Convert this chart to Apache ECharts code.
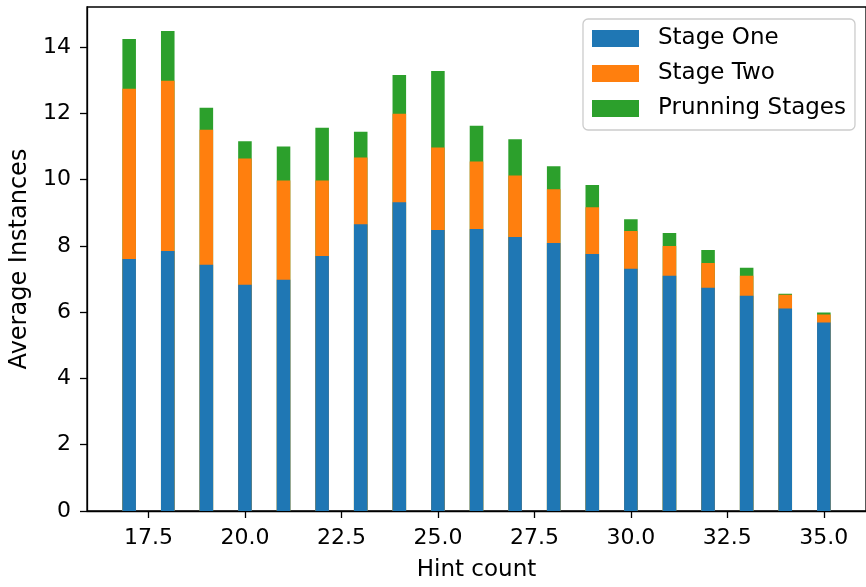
<!DOCTYPE html>
<html>
<head>
<meta charset="utf-8">
<script src="https://cdn.jsdelivr.net/npm/echarts@6/dist/echarts.min.js"></script>
<style>
html,body{margin:0;padding:0;background:#fff;}
#chart{width:866px;height:587px;}
</style>
</head>
<body>
<div id="chart"></div>
<script>
const hintCounts = [17,18,19,20,21,22,23,24,25,26,27,28,29,30,31,32,33,34,35];
const stageOne = [7.61,7.85,7.43,6.83,6.98,7.70,8.66,9.32,8.48,8.51,8.27,8.09,7.76,7.31,7.10,6.74,6.50,6.11,5.69];
const stageTwo = [5.14,5.14,4.08,3.81,3.00,2.28,2.01,2.67,2.49,2.04,1.86,1.62,1.41,1.14,0.90,0.75,0.60,0.42,0.24];
const pruning  = [1.50,1.50,0.66,0.52,1.02,1.59,0.78,1.17,2.31,1.08,1.09,0.70,0.67,0.36,0.39,0.39,0.24,0.03,0.06];
const seriesNames = ['Stage One','Stage Two','Prunning Stages'];
const xTickValues = [17.5,20.0,22.5,25.0,27.5,30.0,32.5,35.0];
const yTickValues = [0,2,4,6,8,10,12,14];
const xAxisTitle = 'Hint count';
const yAxisTitle = 'Average Instances';

const colors = ['#1f77b4','#ff7f0e','#2ca02c'];
const barUnits = 0.35;
const xMin = 15.9075, xMax = 36.0925;
const yMax = 15.2145;
const gridLeft = 87, gridTop = 7, gridWidth = 782, gridHeight = 507;
const barPx = barUnits * gridWidth / (xMax - xMin);
const FONT = 'DejaVu Sans';

// stacked tops (stack drawn back-to-front with overlapping bars on a value axis)
const segs = [stageOne, stageTwo, pruning];
const tops = segs.map((s, i) => hintCounts.map((h, k) => {
  let t = 0;
  for (let j = 0; j <= i; j++) t += segs[j][k];
  return [h, +t.toFixed(4)];
}));

const chart = echarts.init(document.getElementById('chart'), null, {renderer:'canvas'});
const mk = (i) => ({
  name: seriesNames[i],
  type: 'bar',
  barWidth: barPx,
  barGap: '-100%',
  z: 10 - i,
  itemStyle: {color: colors[i]},
  emphasis: {disabled: true},
  data: tops[i]
});
chart.setOption({
  animation: false,
  backgroundColor: '#ffffff',
  textStyle: {fontFamily: FONT},
  grid: {left: gridLeft, top: gridTop, width: gridWidth, height: gridHeight, show: true, borderColor: '#000', borderWidth: 1.3, backgroundColor: 'transparent'},
  legend: {
    orient: 'vertical',
    left: 583, top: 19,
    padding: [8, 9, 10, 9],
    itemWidth: 47, itemHeight: 17, itemGap: 12,
    borderColor: '#cccccc', borderWidth: 1.3, borderRadius: 5,
    backgroundColor: 'rgba(255,255,255,0.8)',
    textStyle: {fontFamily: FONT, fontSize: 23, color: '#000', padding: [0, 0, 0, 14]},
    data: seriesNames.map(n => ({name: n, icon: 'rect'}))
  },
  xAxis: {
    type: 'value', min: xMin, max: xMax,
    name: xAxisTitle, nameLocation: 'middle', nameGap: 48,
    nameTextStyle: {fontFamily: FONT, fontSize: 23, color: '#000'},
    axisLine: {show: true, lineStyle: {color: '#000', width: 1.3}},
    axisTick: {show: true, length: 7, lineStyle: {color: '#000', width: 1.3}, customValues: xTickValues},
    axisLabel: {fontFamily: FONT, fontSize: 22, color: '#000', margin: 16, customValues: xTickValues, formatter: v => Number(v).toFixed(1)},
    splitLine: {show: false}
  },
  yAxis: {
    type: 'value', min: 0, max: yMax,
    name: yAxisTitle, nameLocation: 'middle', nameGap: 52,
    nameTextStyle: {fontFamily: FONT, fontSize: 24, color: '#000'},
    axisLine: {show: true, lineStyle: {color: '#000', width: 1.3}},
    axisTick: {show: true, length: 7, lineStyle: {color: '#000', width: 1.3}, customValues: yTickValues},
    axisLabel: {fontFamily: FONT, fontSize: 22, color: '#000', margin: 16, customValues: yTickValues, formatter: v => String(v)},
    splitLine: {show: false}
  },
  series: [mk(0), mk(1), mk(2)]
});
</script>
</body>
</html>
